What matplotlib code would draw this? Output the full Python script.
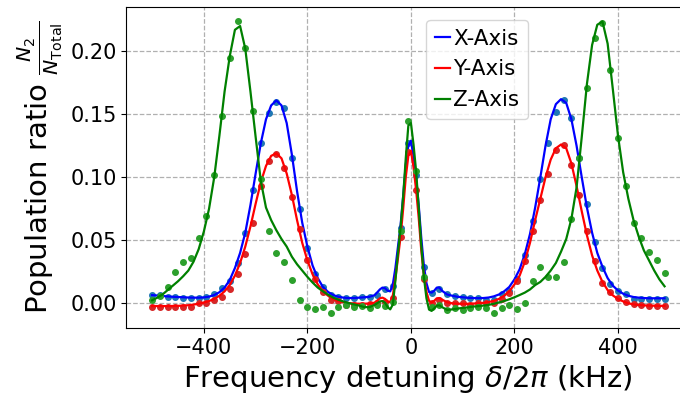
import numpy as np
import matplotlib
matplotlib.use('Agg')
import matplotlib.pyplot as plt

# measured detuning (kHz), 15 kHz steps
x_data = np.arange(-500, 491, 15)

x_axis_data = [0.0066, 0.0063, 0.0052, 0.0050, 0.0043, 0.0045, 0.0040, 0.0050, 0.0074, 0.012,
               0.018, 0.032, 0.056, 0.090, 0.127, 0.151, 0.160, 0.155, 0.115, 0.075,
               0.044, 0.023, 0.013, 0.007, 0.0053, 0.004, 0.004, 0.005, 0.005, 0.007,
               0.011, 0.0138, 0.0596, 0.127, 0.1017, 0.029, 0.0085, 0.0117, 0.0075, 0.006,
               0.005, 0.004, 0.0045, 0.003, 0.003, 0.0075, 0.010, 0.0196, 0.038, 0.065,
               0.0986, 0.127, 0.1516, 0.1614, 0.1468, 0.115, 0.079, 0.0487, 0.0284, 0.0156,
               0.0101, 0.0072, 0.0037, 0.0035, 0.0035, 0.0035, 0.0035]

y_axis_data = [-0.0026, -0.0026, -0.0030, -0.0028, -0.0026, -0.0026, 0.0, 0.0005, 0.0024, 0.0053,
               0.011, 0.023, 0.0395, 0.0636, 0.093, 0.113, 0.1184, 0.107, 0.0845, 0.0588,
               0.0342, 0.019, 0.009, 0.003, 0.0018, -0.001, -0.0015, -0.001, -0.0005, 0.0,
               0.001, 0.004, 0.053, 0.120, 0.0896, 0.0196, 0.0, 0.003, 0.0, 0.0,
               0.0005, -0.001, 0.0, 0.0, 0.0005, 0.0035, 0.0085, 0.018, 0.0337, 0.057,
               0.082, 0.103, 0.122, 0.126, 0.1097, 0.0862, 0.0575, 0.0337, 0.0159, 0.009,
               0.004, 0.0013, -0.0008, -0.0016, -0.002, -0.002, -0.002]

z_axis_data = [0.0026, 0.006, 0.0133, 0.025, 0.033, 0.036, 0.0515, 0.0694, 0.1017, 0.149,
               0.1945, 0.2236, 0.2024, 0.1524, 0.0986, 0.057, 0.0397, 0.033, 0.0185, 0.0026,
               -0.003, -0.0048, -0.0026, -0.008, -0.003, -0.001, -0.003, -0.002, -0.004, -0.001,
               -0.002, 0.001, 0.057, 0.145, 0.105, 0.021, -0.003, -0.0016, -0.005, -0.004,
               -0.005, -0.004, -0.003, -0.004, -0.0074, -0.0034, -0.0016, -0.0048, 0.0005, 0.0177,
               0.029, 0.021, 0.021, 0.033, 0.067, 0.115, 0.171, 0.2106, 0.2223, 0.1855,
               0.131, 0.0927, 0.064, 0.0517, 0.041, 0.0344, 0.0244]

# fitted curves: 10 kHz steps, 5 kHz steps around the carrier
x_fit = np.concatenate([np.arange(-500, -69, 10), np.arange(-60, 61, 5), np.arange(70, 491, 10)])

x_axis_fit = [0.0065, 0.0062, 0.0058, 0.0055, 0.0052, 0.0050, 0.0048, 0.0046, 0.0045, 0.0045,
              0.0047, 0.0053, 0.0066, 0.0088, 0.0125, 0.0185, 0.028, 0.040, 0.056, 0.078,
              0.103, 0.127, 0.146, 0.157, 0.161, 0.157, 0.143, 0.118, 0.089, 0.064,
              0.045, 0.030, 0.020, 0.013, 0.0090, 0.0065, 0.0052, 0.0045, 0.0042, 0.0042,
              0.0045, 0.0048, 0.0052, 0.0065,
              0.0110, 0.0125, 0.0120, 0.0100, 0.0095, 0.0150, 0.028, 0.045, 0.062, 0.085,
              0.110, 0.125, 0.129, 0.117, 0.100, 0.078, 0.052, 0.030, 0.016, 0.009,
              0.0085, 0.010, 0.0125, 0.0125, 0.010,
              0.0070, 0.0060, 0.0052, 0.0048, 0.0044, 0.0042, 0.0041, 0.0042, 0.0046, 0.0055,
              0.0070, 0.0095, 0.013, 0.019, 0.027, 0.039, 0.055, 0.076, 0.100, 0.125,
              0.146, 0.158, 0.162, 0.159, 0.146, 0.125, 0.100, 0.076, 0.056, 0.040,
              0.029, 0.020, 0.014, 0.0102, 0.0076, 0.0060, 0.0050, 0.0045, 0.0042, 0.0040,
              0.0040, 0.0040, 0.0040]

y_axis_fit = [-0.0022, -0.0022, -0.0022, -0.0022, -0.0021, -0.0020, -0.0018, -0.0015, -0.0010, -0.0003,
              0.0006, 0.0018, 0.0035, 0.006, 0.0095, 0.0145, 0.022, 0.032, 0.045, 0.061,
              0.079, 0.096, 0.109, 0.117, 0.119, 0.115, 0.103, 0.086, 0.066, 0.048,
              0.034, 0.023, 0.0150, 0.0095, 0.0060, 0.0035, 0.0018, 0.0008, 0.0002, -0.0002,
              -0.0003, -0.0003, -0.0002, 0.0005,
              0.0040, 0.0045, 0.0035, 0.0015, 0.0010, 0.0060, 0.020, 0.036, 0.053, 0.075,
              0.100, 0.117, 0.121, 0.108, 0.090, 0.068, 0.042, 0.022, 0.009, 0.002,
              0.0005, 0.002, 0.0040, 0.0042, 0.0030,
              0.0008, 0.0, -0.0003, -0.0004, -0.0004, -0.0002, 0.0, 0.0004, 0.0010, 0.0020,
              0.0035, 0.0060, 0.0095, 0.0150, 0.022, 0.033, 0.048, 0.066, 0.083, 0.100,
              0.114, 0.123, 0.126, 0.123, 0.111, 0.093, 0.073, 0.054, 0.038, 0.026,
              0.017, 0.0105, 0.0063, 0.0035, 0.0015, 0.0, -0.0008, -0.0013, -0.0016, -0.0018,
              -0.0019, -0.0020, -0.0020]

z_axis_fit = [0.0024, 0.0045, 0.0070, 0.0105, 0.0140, 0.0175, 0.0215, 0.026, 0.033, 0.043,
              0.057, 0.075, 0.100, 0.133, 0.168, 0.196, 0.217, 0.220, 0.202, 0.168,
              0.132, 0.097, 0.076, 0.066, 0.058, 0.051, 0.045, 0.037, 0.031, 0.026,
              0.021, 0.0165, 0.0125, 0.0095, 0.0068, 0.0045, 0.0028, 0.0014, 0.0002, -0.0008,
              -0.0018, -0.0030, -0.0030, -0.0012,
              0.0015, 0.0018, 0.0005, -0.0030, -0.0048, -0.0010, 0.018, 0.040, 0.060, 0.085,
              0.115, 0.141, 0.143, 0.126, 0.105, 0.076, 0.046, 0.021, 0.004, -0.005,
              -0.006, -0.004, -0.0018, -0.0016, -0.0030,
              -0.0052, -0.0048, -0.0042, -0.0036, -0.0032, -0.0026, -0.0022, -0.0018, -0.0012, -0.0004,
              0.0007, 0.0018, 0.0032, 0.0048, 0.0066, 0.0085, 0.011, 0.0145, 0.017, 0.021,
              0.026, 0.032, 0.041, 0.051, 0.067, 0.092, 0.132, 0.174, 0.205, 0.221,
              0.2236, 0.206, 0.170, 0.133, 0.104, 0.083, 0.066, 0.053, 0.042, 0.034,
              0.026, 0.019, 0.0135]

labels = ['X-Axis', 'Y-Axis', 'Z-Axis']
line_colors = ['blue', 'red', 'green']
dot_colors = ['tab:blue', 'tab:red', 'tab:green']

fig = plt.figure(figsize=(6.8, 3.94), dpi=100)
ax = fig.add_axes([0.186, 0.1675, 0.829, 0.815])

series = [(x_axis_data, x_axis_fit), (y_axis_data, y_axis_fit), (z_axis_data, z_axis_fit)]
for (pts, fit), lab, lc, dc in zip(series, labels, line_colors, dot_colors):
    ax.plot(x_data, pts, 'o', color=dc, markersize=4)
    ax.plot(x_fit, fit, '-', color=lc, linewidth=1.6, label=lab)

ax.set_xticks([-400, -200, 0, 200, 400])
ax.set_yticks([0.0, 0.05, 0.10, 0.15, 0.20])
ax.yaxis.set_major_formatter(matplotlib.ticker.FormatStrFormatter('%.2f'))
ax.tick_params(labelsize=15)
ax.grid(True, linestyle='--', color='#b0b0b0', linewidth=0.9)

ax.set_xlabel(r'Frequency detuning $\delta/2\pi$ (kHz)', fontsize=21)
ax.set_ylabel(r'Population ratio $\frac{N_2}{N_{\mathrm{Total}}}$', fontsize=21)

ax.legend(loc='upper left', bbox_to_anchor=(0.532, 0.959), borderaxespad=0,
          fontsize=15.5, handlelength=0.7, handletextpad=0.15)

fig.savefig('out.png', dpi=100)
